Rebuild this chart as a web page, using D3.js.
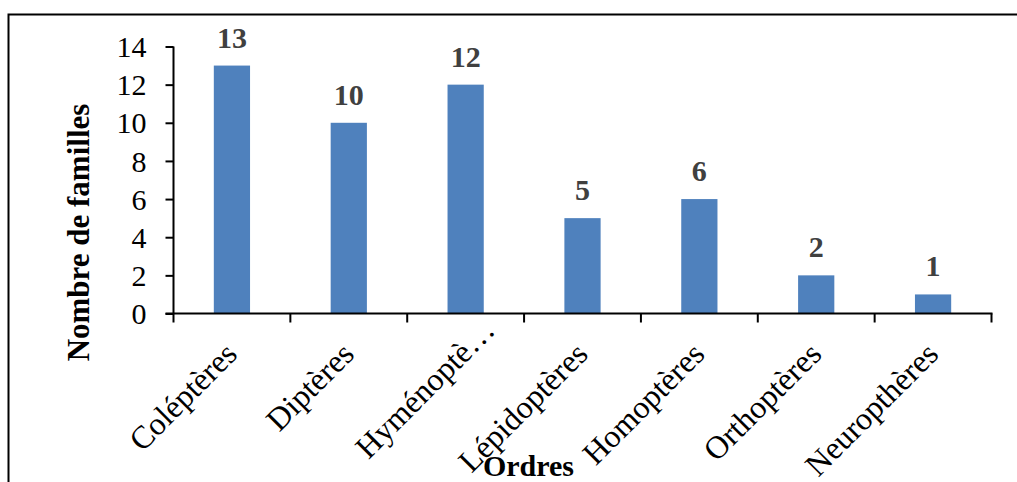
<!DOCTYPE html>
<html>
<head>
<meta charset="utf-8">
<script src="https://cdn.jsdelivr.net/npm/d3@7/dist/d3.min.js"></script>
<style>
  html, body { margin: 0; padding: 0; background: #fff; }
  svg { display: block; }
</style>
</head>
<body>
<svg id="chart" width="1017" height="482"></svg>
<script>
// Number of insect families per order
const categories = ["Coléptères", "Diptères", "Hyménoptè…", "Lépidoptères", "Homoptères", "Orthoptères", "Neuropthères"];
const values = [13, 10, 12, 5, 6, 2, 1];
const yTicks = [0, 2, 4, 6, 8, 10, 12, 14];

const svg = d3.select("#chart");
const font = "'Liberation Serif', 'Times New Roman', serif";

// chart frame
svg.append("path")
  .attr("d", "M8.5,482 V14.5 H1017")
  .attr("fill", "none")
  .attr("stroke", "#000")
  .attr("stroke-width", 2);

const x = d3.scaleBand()
  .domain(categories)
  .range([173.5, 991.5])
  .paddingInner(0.69)
  .paddingOuter(0.345);

const y = d3.scaleLinear()
  .domain([0, 14])
  .range([313.5, 46.5]);

// bars
svg.append("g")
  .selectAll("rect")
  .data(values)
  .join("rect")
  .attr("x", (d, i) => x(categories[i]))
  .attr("y", d => y(d))
  .attr("width", x.bandwidth())
  .attr("height", d => y(0) - y(d))
  .attr("fill", "#4F81BD");

// value labels
svg.append("g")
  .selectAll("text")
  .data(values)
  .join("text")
  .attr("x", (d, i) => x(categories[i]) + x.bandwidth() / 2)
  .attr("y", d => y(d) - 18)
  .attr("text-anchor", "middle")
  .attr("font-family", font)
  .attr("font-weight", "bold")
  .attr("font-size", 30)
  .attr("fill", "#404040")
  .text(d => d);

// y axis
const yAxis = svg.append("g")
  .attr("transform", "translate(173.5,0)")
  .call(d3.axisLeft(y).tickValues(yTicks).tickSize(8).tickPadding(19).tickFormat(d3.format("d")));
yAxis.select(".domain").attr("stroke", "#000").attr("stroke-width", 2).attr("d", "M0," + y(0) + "V" + y(14));
yAxis.selectAll(".tick line").attr("stroke", "#000").attr("stroke-width", 2);
yAxis.selectAll(".tick text")
  .attr("font-family", font)
  .attr("font-size", 30)
  .attr("fill", "#000")
  .attr("dy", "0.34em");

// x axis with tick marks between categories
const bounds = d3.range(categories.length + 1).map(i => 173.5 + i * (991.5 - 173.5) / categories.length);
const xAxis = svg.append("g");
xAxis.append("line")
  .attr("x1", 165.5).attr("x2", 992.5)
  .attr("y1", y(0)).attr("y2", y(0))
  .attr("stroke", "#000").attr("stroke-width", 2);
xAxis.selectAll("line.tk")
  .data(bounds)
  .join("line")
  .attr("class", "tk")
  .attr("x1", d => d).attr("x2", d => d)
  .attr("y1", y(0)).attr("y2", y(0) + 9)
  .attr("stroke", "#000").attr("stroke-width", 2);

// rotated category labels; a truncated label keeps the slot of its full name
svg.append("g")
  .selectAll("text")
  .data(categories)
  .join("text")
  .attr("transform", d => `translate(${x(d) + x.bandwidth() / 2 + 7},356) rotate(-45)`)
  .attr("dx", d => d.endsWith("…") ? 34 : 0)
  .attr("text-anchor", "end")
  .attr("font-family", font)
  .attr("font-size", 32)
  .attr("fill", "#000")
  .text(d => d);

// axis titles
svg.append("text")
  .attr("transform", "translate(89,232.5) rotate(-90)")
  .attr("text-anchor", "middle")
  .attr("font-family", font)
  .attr("font-weight", "bold")
  .attr("font-size", 31)
  .attr("fill", "#000")
  .text("Nombre de familles");

svg.append("text")
  .attr("x", 528.5)
  .attr("y", 476)
  .attr("text-anchor", "middle")
  .attr("font-family", font)
  .attr("font-weight", "bold")
  .attr("font-size", 30)
  .attr("fill", "#000")
  .text("Ordres");
</script>
</body>
</html>
